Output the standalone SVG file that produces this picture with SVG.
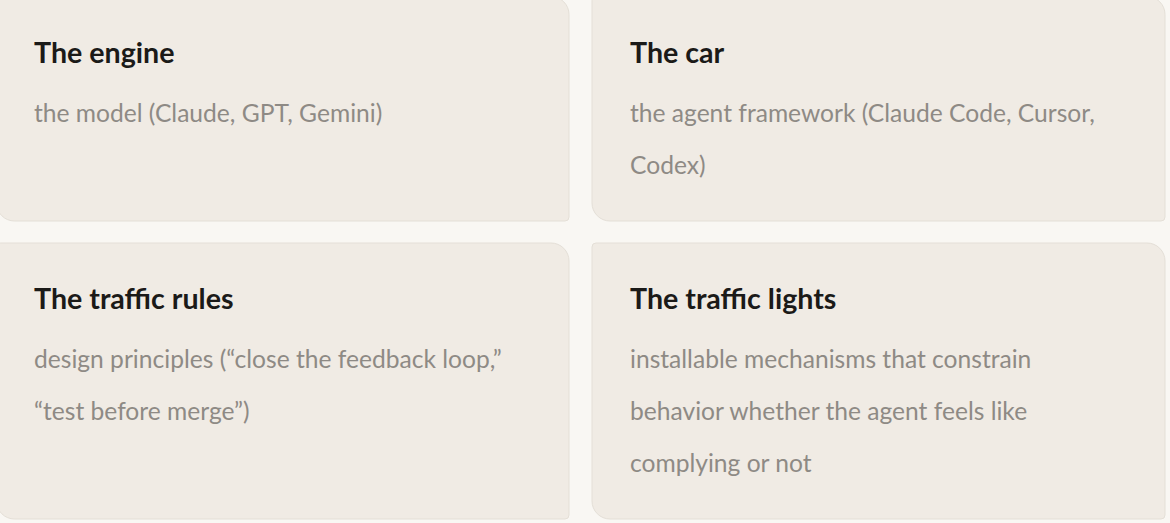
<svg xmlns="http://www.w3.org/2000/svg" width="1170" height="523" viewBox="0 0 1170 523">
  <defs>
    <style>
      .card { fill: #f0ebe4; stroke: #e4dfd7; stroke-width: 1; }
      .title { font-family: Lato, "Liberation Sans", sans-serif; font-weight: 700; font-size: 28.6px; fill: #1b1a18; }
      .body { font-family: Lato, "Liberation Sans", sans-serif; font-weight: 400; font-size: 24.6px; fill: #8e8a85; }
    </style>
  </defs>
  <rect x="0" y="0" width="1170" height="523" fill="#f9f7f3" />
  <g id="card-engine">
    <path class="card" d="M0.5,-3.5 H551 A18,18 0 0 1 569,14.5 V217 A4,4 0 0 1 565,221 H14.5 A18,18 0 0 1 -3.5,203 V0.5 A4,4 0 0 1 0.5,-3.5 Z" />
    <text class="title" x="34" y="63">The engine</text>
    <text class="body" x="34" y="122">the model (Claude, GPT, Gemini)</text>
  </g>
  <g id="card-car">
    <path class="card" d="M596,-3.5 H1147 A18,18 0 0 1 1165,14.5 V217 A4,4 0 0 1 1161,221 H610 A18,18 0 0 1 592,203 V0.5 A4,4 0 0 1 596,-3.5 Z" />
    <text class="title" x="630" y="63">The car</text>
    <text class="body" x="630" y="122">the agent framework (Claude Code, Cursor,</text>
    <text class="body" x="630" y="174">Codex)</text>
  </g>
  <g id="card-traffic-rules">
    <path class="card" d="M0.5,243 H551 A18,18 0 0 1 569,261 V515 A4,4 0 0 1 565,519 H14.5 A18,18 0 0 1 -3.5,501 V247 A4,4 0 0 1 0.5,243 Z" />
    <text class="title" x="34" y="309">The traffic rules</text>
    <text class="body" x="34" y="368">design principles (“close the feedback loop,”</text>
    <text class="body" x="34" y="420">“test before merge”)</text>
  </g>
  <g id="card-traffic-lights">
    <path class="card" d="M596,243 H1147 A18,18 0 0 1 1165,261 V515 A4,4 0 0 1 1161,519 H610 A18,18 0 0 1 592,501 V247 A4,4 0 0 1 596,243 Z" />
    <text class="title" x="630" y="309">The traffic lights</text>
    <text class="body" x="630" y="368">installable mechanisms that constrain</text>
    <text class="body" x="630" y="420">behavior whether the agent feels like</text>
    <text class="body" x="630" y="472">complying or not</text>
  </g>
  <g id="connectors"></g>
</svg>
